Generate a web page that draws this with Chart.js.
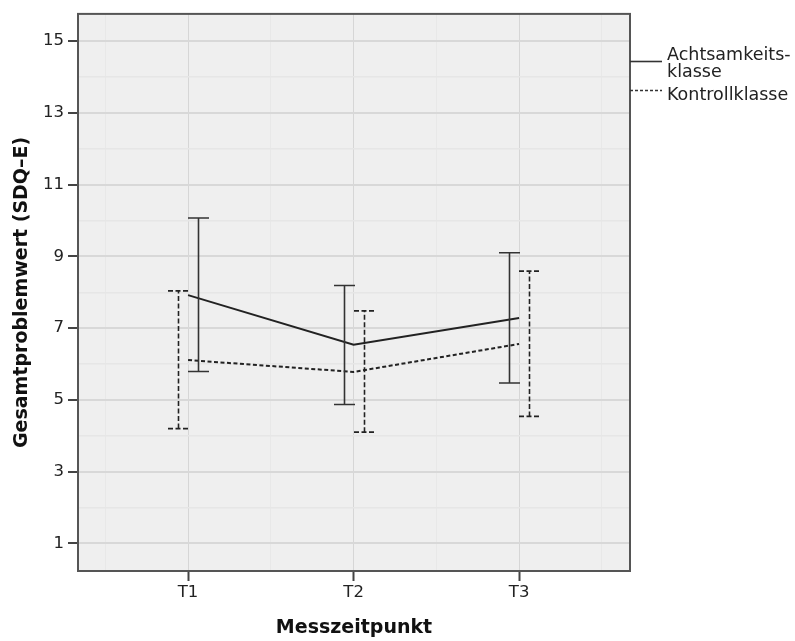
<!DOCTYPE html>
<html>
<head>
<meta charset="utf-8">
<script src="https://cdn.jsdelivr.net/npm/chart.js@4.4.1/dist/chart.umd.min.js"></script>
<style>
  body { margin: 0; background: #fff; }
  canvas { display: block; }
</style>
</head>
<body>
<canvas id="chart1" width="795" height="641"></canvas>
<script>
// Data
const timePoints = [1, 2, 3];
const timeLabels = ["T1", "T2", "T3"];
const seriesNames = ["Achtsamkeits-\nklasse", "Kontrollklasse"];

const achtMean  = [7.92, 6.54, 7.28];
const achtLower = [5.79, 4.87, 5.47];
const achtUpper = [10.07, 8.19, 9.10];

const kontMean  = [6.11, 5.78, 6.56];
const kontLower = [4.20, 4.10, 4.54];
const kontUpper = [8.04, 7.48, 8.59];

const yTickValues = [1, 3, 5, 7, 9, 11, 13, 15];
const yMinorValues = [2, 4, 6, 8, 10, 12, 14];
const xMinorValues = [0.5, 1.5, 2.5, 3.5];

const FONT = "'DejaVu Sans', 'Noto Sans', sans-serif";

// Plot background and frame
const frame = {
    id: 'frame',
    beforeDraw(chart) {
        const {ctx, chartArea: a} = chart;
        ctx.save();
        ctx.fillStyle = '#efefef';
        ctx.fillRect(a.left, a.top, a.right - a.left, a.bottom - a.top);
        ctx.restore();
    },
    afterDraw(chart) {
        const {ctx, chartArea: a} = chart;
        ctx.save();
        ctx.strokeStyle = '#555';
        ctx.lineWidth = 2;
        ctx.strokeRect(a.left, a.top, a.right - a.left, a.bottom - a.top);
        ctx.restore();
    }
};

// Error bars drawn next to each mean, side flips per time point
const errorBars = {
    id: 'errorBars',
    afterDatasetsDraw(chart, args, opts) {
        const {ctx, scales: {x, y}} = chart;
        opts.series.forEach(s => {
            ctx.save();
            ctx.strokeStyle = s.color;
            ctx.lineWidth = 1.6;
            ctx.setLineDash(s.dash);
            s.lower.forEach((lo, i) => {
                const px = Math.round(x.getPixelForValue(timePoints[i]) + s.side[i] * opts.shift) + 0.5;
                const yl = y.getPixelForValue(lo);
                const yu = y.getPixelForValue(s.upper[i]);
                ctx.beginPath();
                ctx.moveTo(px, yl);
                ctx.lineTo(px, yu);
                ctx.moveTo(px - opts.cap, yu);
                ctx.lineTo(px + opts.cap, yu);
                ctx.moveTo(px - opts.cap, yl);
                ctx.lineTo(px + opts.cap, yl);
                ctx.stroke();
            });
            ctx.restore();
        });
    }
};

// Legend on the right, outside the plot
const sideLegend = {
    id: 'sideLegend',
    afterDraw(chart) {
        const {ctx, chartArea: a} = chart;
        ctx.save();
        ctx.strokeStyle = '#333';
        ctx.lineWidth = 1.6;
        ctx.fillStyle = '#222';
        ctx.font = "17.5px " + FONT;
        ctx.textBaseline = 'alphabetic';

        // solid entry
        ctx.beginPath();
        ctx.moveTo(a.right, 61.5);
        ctx.lineTo(a.right + 32, 61.5);
        ctx.stroke();
        const lines = seriesNames[0].split("\n");
        ctx.fillText(lines[0], a.right + 37, 60);
        ctx.fillText(lines[1], a.right + 37, 77);

        // dashed entry
        ctx.setLineDash([3, 2]);
        ctx.beginPath();
        ctx.moveTo(a.right, 90.5);
        ctx.lineTo(a.right + 32, 90.5);
        ctx.stroke();
        ctx.fillText(seriesNames[1], a.right + 37, 100);
        ctx.restore();
    }
};

new Chart(document.getElementById("chart1"), {
    type: 'line',
    data: {
        datasets: [{
            label: seriesNames[0],
            data: timePoints.map((t, i) => ({x: t, y: achtMean[i]})),
            borderColor: '#222',
            borderWidth: 2,
            pointRadius: 0,
            tension: 0
        }, {
            label: seriesNames[1],
            data: timePoints.map((t, i) => ({x: t, y: kontMean[i]})),
            borderColor: '#222',
            borderWidth: 2,
            borderDash: [4, 2.5],
            pointRadius: 0,
            tension: 0
        }]
    },
    options: {
        responsive: false,
        animation: false,
        layout: { padding: { left: 0, right: 165, top: 12, bottom: 0 } },
        plugins: {
            legend: { display: false },
            tooltip: { enabled: false },
            errorBars: {
                shift: 10,
                cap: 10.5,
                series: [
                    { lower: achtLower, upper: achtUpper, side: [1, -1, -1], color: '#333', dash: [] },
                    { lower: kontLower, upper: kontUpper, side: [-1, 1, 1], color: '#222', dash: [5, 2.5] }
                ]
            }
        },
        scales: {
            x: {
                type: 'linear',
                min: 0.335,
                max: 3.67,
                afterBuildTicks: s => {
                    s.ticks = timePoints.concat(xMinorValues).sort((a, b) => a - b).map(v => ({value: v}));
                },
                afterFit: s => { s.height = 70; },
                ticks: {
                    autoSkip: false,
                    maxRotation: 0,
                    padding: 2,
                    color: '#222',
                    font: { family: FONT, size: 16.5 },
                    callback: v => {
                        const i = timePoints.indexOf(v);
                        return i >= 0 ? timeLabels[i] : '';
                    }
                },
                grid: {
                    color: c => timePoints.includes(c.tick.value) ? '#d6d6d6' : '#e8e8e8',
                    lineWidth: 1,
                    tickLength: 10,
                    tickWidth: 2,
                    tickColor: c => timePoints.includes(c.tick.value) ? '#444' : 'rgba(0,0,0,0)'
                },
                border: { display: false },
                title: {
                    display: true,
                    text: 'Messzeitpunkt',
                    color: '#111',
                    font: { family: FONT, size: 19, weight: 'bold' },
                    padding: { top: 0, bottom: 2 }
                }
            },
            y: {
                min: 0.23,
                max: 15.76,
                afterBuildTicks: s => {
                    s.ticks = yTickValues.concat(yMinorValues).sort((a, b) => a - b).map(v => ({value: v}));
                },
                afterFit: s => { s.width = 78; },
                ticks: {
                    autoSkip: false,
                    padding: 4,
                    color: '#222',
                    font: { family: FONT, size: 16.5 },
                    callback: v => yTickValues.includes(v) ? String(v) : ''
                },
                grid: {
                    color: c => yTickValues.includes(c.tick.value) ? '#d8d8d8' : '#e6e6e6',
                    lineWidth: c => yTickValues.includes(c.tick.value) ? 2 : 1.5,
                    tickLength: 10,
                    tickWidth: 2,
                    tickColor: c => yTickValues.includes(c.tick.value) ? '#444' : 'rgba(0,0,0,0)'
                },
                border: { display: false },
                title: {
                    display: true,
                    text: 'Gesamtproblemwert (SDQ–E)',
                    color: '#111',
                    font: { family: FONT, size: 19, weight: 'bold' },
                    padding: { top: 11, bottom: 0 }
                }
            }
        }
    },
    plugins: [frame, errorBars, sideLegend]
});
</script>
</body>
</html>
